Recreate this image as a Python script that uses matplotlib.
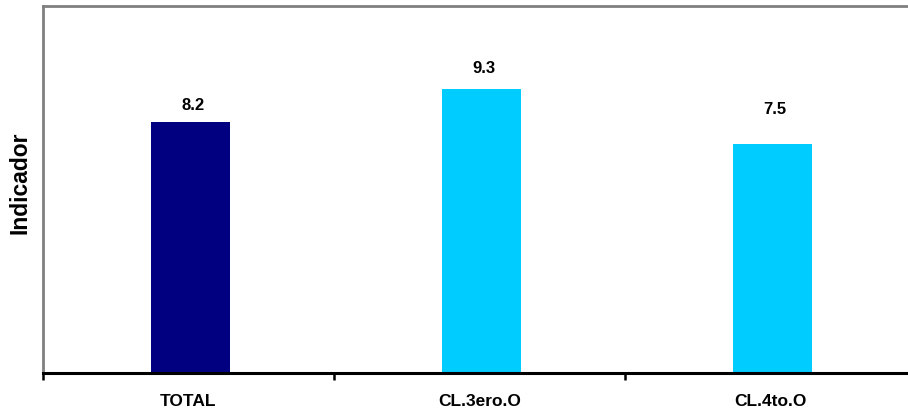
import matplotlib
matplotlib.use("Agg")
import matplotlib.pyplot as plt
import numpy as np

categories = ["TOTAL", "CL.3ero.O", "CL.4to.O"]
values = [8.2, 9.3, 7.5]
bar_colors = ["#000080", "#00CCFF", "#00CCFF"]
label_gap_pt = [6.5, 9.0, 19.5]  # extra vertical spacing for value labels (style)

plt.rcParams["font.family"] = ["Liberation Sans", "DejaVu Sans"]
plt.rcParams["font.weight"] = "bold"

fig = plt.figure(figsize=(9.08, 4.12), dpi=100)
W, H = 908, 412
left, right, top, bottom = 43, 916, 6, 373
ax = fig.add_axes([left / W, (H - bottom) / H, (right - left) / W, (bottom - top) / H])

x = np.arange(len(categories))
bars = ax.bar(x + 0.007, values, width=0.272, color=bar_colors, zorder=2)

ax.set_xlim(-0.5, len(categories) - 0.5)
ax.set_ylim(0, 12)

for xi, v, g in zip(x, values, label_gap_pt):
    ax.annotate(f"{v:.1f}", (xi, v), xytext=(3, g), textcoords="offset points",
                ha="center", va="bottom", fontsize=12, fontweight="bold")

# spines
for s in ["left", "top", "right"]:
    ax.spines[s].set_color("#808080")
    ax.spines[s].set_linewidth(2)
ax.spines["bottom"].set_color("black")
ax.spines["bottom"].set_linewidth(2.2)
ax.spines["bottom"].set_zorder(3)

ax.set_yticks([])
ax.set_xticks(np.arange(-0.5, len(categories), 1.0))
ax.set_xticklabels([])
ax.tick_params(axis="x", which="major", direction="out", length=5, width=1.8, color="black")
ax.set_xticks(x, minor=True)
ax.set_xticklabels(categories, minor=True, fontsize=12.5, fontweight="bold")
ax.tick_params(axis="x", which="minor", length=0, pad=15)

fig.text(20 / W, 1 - 183 / H, "Indicador", rotation=90, ha="center", va="center",
         fontsize=16.5, fontweight="bold")

fig.savefig("out.png", dpi=100, facecolor="white")
